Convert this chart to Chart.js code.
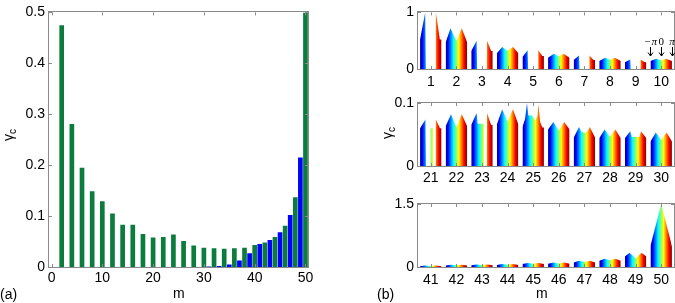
<!DOCTYPE html>
<html>
<head>
<meta charset="utf-8">
<script src="https://cdn.jsdelivr.net/npm/chart.js"></script>
<title>gamma_c versus m</title>
<style>
    body { margin: 0; background: #fff; font-family: "Liberation Sans", Arial, sans-serif; }
    #page { position: relative; width: 675px; height: 303px; overflow: hidden; }
    canvas { position: absolute; }
    .lbl { position: absolute; font-size: 14px; line-height: 14px; color: #000; white-space: nowrap; z-index: 2; }
    .ylab { transform: translate(-50%, -50%) rotate(-90deg); }
    .lbl sub { font-size: 10px; vertical-align: baseline; position: relative; top: 3px; }
    .ph { position: absolute; font-family: "Liberation Serif", serif; font-style: italic; font-size: 11px; line-height: 11px; transform: translateX(-50%); z-index: 2; }
</style>
</head>
<body>
<div id="page">
    <canvas id="chartA" width="320" height="303" style="left:0;top:0"></canvas>
    <canvas id="chartB1" width="315" height="90" style="left:360px;top:0"></canvas>
    <canvas id="chartB2" width="315" height="100" style="left:360px;top:90px"></canvas>
    <canvas id="chartB3" width="315" height="100" style="left:360px;top:190px"></canvas>

    <div class="lbl" style="left:0;top:287px">(a)</div>
    <div class="lbl" style="left:173px;top:286px">m</div>
    <div class="lbl ylab" style="left:9px;top:135px">γ<sub>c</sub></div>
    <div class="lbl" style="left:377px;top:287px">(b)</div>
    <div class="lbl" style="left:536px;top:286px">m</div>
    <div class="lbl ylab" style="left:388px;top:133px">γ<sub>c</sub></div>
</div>

<script>
    // panel (a): green bars at even m, blue bars at odd m
    const greenM = [2, 4, 6, 8, 10, 12, 14, 16, 18, 20, 22, 24, 26, 28, 30, 32, 34, 36, 38, 40, 42, 44, 46, 48, 50];
    const greenGamma = [0.475, 0.281, 0.195, 0.149, 0.129, 0.105, 0.083, 0.083, 0.065, 0.058, 0.059, 0.064, 0.051,
        0.042, 0.038, 0.037, 0.036, 0.037, 0.038, 0.043, 0.048, 0.059, 0.081, 0.137, 0.5];
    const blueM = [31, 33, 35, 37, 39, 41, 43, 45, 47, 49];
    const blueGamma = [0.001, 0.002, 0.005, 0.013, 0.027, 0.045, 0.053, 0.068, 0.102, 0.215];
    const xTicksA = [0, 10, 20, 30, 40, 50];
    const yTicksA = [0, 0.1, 0.2, 0.3, 0.4, 0.5];

    // panel (b): outline of gamma_c over the phase (in units of pi, -1 .. 1) for each m
    const mTop = [1, 2, 3, 4, 5, 6, 7, 8, 9, 10];
    const shapesTop = [
        [[-1, .52], [-0.52, 1], [-0.46, 0], [0.45, 0], [0.47, 1], [0.84, .52], [1, .52]],
        [[-1, .47], [-0.55, .72], [0, .49], [0.5, .72], [1, .47]],
        [[-1, .32], [-0.5, .5], [-0.45, 0], [0.45, 0], [0.47, .5], [0.85, .32], [1, .32]],
        [[-1, .28], [-0.5, .39], [0, .32], [0.5, .39], [1, .28]],
        [[-1, .21], [-0.52, .33], [-0.47, 0], [0.45, 0], [0.47, .33], [0.85, .23], [1, .23]],
        [[-1, .2], [-0.45, .27], [0, .22], [0.45, .27], [1, .2]],
        [[-1, .16], [-0.5, .24], [-0.45, 0], [0.45, 0], [0.47, .24], [0.85, .16], [1, .16]],
        [[-1, .14], [-0.45, .2], [0, .16], [0.45, .2], [1, .14]],
        [[-1, .12], [-0.5, .17], [-0.45, 0], [0.45, 0], [0.47, .17], [0.85, .12], [1, .12]],
        [[-1, .14], [-0.45, .18], [0, .15], [0.45, .18], [1, .14]]
    ];
    const mMid = [21, 22, 23, 24, 25, 26, 27, 28, 29, 30];
    const shapesMid = [
        [[-1, .06], [-0.5, .074], [-0.45, 0], [-0.03, 0], [-0.03, .06], [0.2, .06], [0.2, 0], [0.45, 0], [0.47, .074], [0.85, .06], [1, .06]],
        [[-1, .063], [-0.5, .082], [0, .061], [0.5, .082], [1, .063]],
        [[-1, .065], [-0.5, .084], [-0.4, .067], [0.17, .067], [0.17, 0], [0.45, 0], [0.47, .084], [0.85, .065], [1, .065]],
        [[-1, .066], [-0.5, .09], [0, .07], [0.5, .09], [1, .066]],
        [[-1, .062], [-0.75, .075], [-0.58, .1], [-0.45, .08], [-0.1, .08], [0.2, .072], [0.4, .08], [0.48, .098], [0.65, .07], [0.85, .061], [1, .061]],
        [[-1, .058], [-0.5, .07], [0, .056], [0.5, .07], [1, .058]],
        [[-1, .045], [-0.5, .062], [-0.3, .055], [0, .052], [0.3, .055], [0.5, .062], [1, .045]],
        [[-1, .044], [-0.5, .058], [0, .046], [0.5, .058], [1, .044]],
        [[-1, .044], [-0.5, .055], [-0.35, .046], [0.35, .046], [0.5, .055], [1, .044]],
        [[-1, .039], [-0.5, .053], [0, .041], [0.5, .053], [1, .039]]
    ];
    const mBot = [41, 42, 43, 44, 45, 46, 47, 48, 49, 50];
    const shapesBot = [
        [[-1, .02], [-0.5, .035], [0, .025], [0.5, .035], [1, .02]],
        [[-1, .035], [-0.5, .055], [0, .04], [0.5, .055], [1, .035]],
        [[-1, .04], [-0.5, .06], [0, .045], [0.5, .06], [1, .04]],
        [[-1, .047], [-0.5, .07], [0, .055], [0.5, .07], [1, .047]],
        [[-1, .07], [-0.5, .094], [0, .075], [0.5, .094], [1, .07]],
        [[-1, .08], [-0.5, .11], [0, .085], [0.5, .11], [1, .08]],
        [[-1, .11], [-0.5, .15], [0, .12], [0.5, .15], [1, .11]],
        [[-1, .15], [-0.5, .195], [0, .16], [0.5, .195], [1, .15]],
        [[-1, .25], [-0.55, .34], [0, .2], [0.55, .34], [1, .25]],
        [[-1, .5], [-0.85, .65], [0, 1.5], [0.85, .65], [1, .48]]
    ];
    const yMaxB = [1, 0.1, 1.5];
    const phaseMarks = [-1, 0, 1];
    const phaseLabels = ['−π', '0', 'π'];

    const halfW = 0.42;   // half width of one m group on the x axis
    const jetStops = [[0, '#00008f'], [0.11, '#0000ff'], [0.36, '#00ffff'], [0.61, '#ffff00'], [0.86, '#ff0000'], [1, '#800000']];

    Chart.defaults.font.family = '"Liberation Sans", Arial, sans-serif';
    Chart.defaults.font.size = 14;
    Chart.defaults.color = '#000';

    // gray box with small inward ticks, like the original axes
    const framePlugin = {
        id: 'frame',
        afterDatasetsDraw(chart) {
            const { ctx, chartArea: a } = chart;
            const sx = chart.scales.x, sy = chart.scales.y;
            ctx.save();
            ctx.strokeStyle = '#8a8a8a';
            ctx.lineWidth = 1;
            ctx.beginPath();
            sx.ticks.forEach(t => {
                const p = Math.round(sx.getPixelForValue(t.value)) + 0.5;
                ctx.moveTo(p, a.top); ctx.lineTo(p, a.top + 3);
                ctx.moveTo(p, a.bottom); ctx.lineTo(p, a.bottom - 3);
            });
            sy.ticks.forEach(t => {
                const p = Math.round(sy.getPixelForValue(t.value)) + 0.5;
                ctx.moveTo(a.left, p); ctx.lineTo(a.left + 3, p);
                ctx.moveTo(a.right, p); ctx.lineTo(a.right - 3, p);
            });
            ctx.stroke();
            ctx.strokeRect(Math.round(a.left) - 0.5, Math.round(a.top) - 0.5,
                Math.round(a.right - a.left) + 1, Math.round(a.bottom - a.top) + 1);
            ctx.restore();
        }
    };

    function jet(chart, m) {
        if (!chart.chartArea || !chart.scales.x) return '#0000ff';
        const sx = chart.scales.x;
        const g = chart.ctx.createLinearGradient(sx.getPixelForValue(m - halfW), 0, sx.getPixelForValue(m + halfW), 0);
        jetStops.forEach(([t, c]) => g.addColorStop(t, c));
        return g;
    }

    new Chart(document.getElementById('chartA'), {
        type: 'bar',
        data: {
            datasets: [{
                data: greenM.map((m, i) => ({ x: m, y: greenGamma[i] })),
                backgroundColor: '#0b7b3e',
                grouped: false,
                barPercentage: 0.92,
                categoryPercentage: 1
            }, {
                data: blueM.map((m, i) => ({ x: m, y: blueGamma[i] })),
                backgroundColor: '#0000ff',
                grouped: false,
                barPercentage: 0.92,
                categoryPercentage: 1
            }]
        },
        options: {
            responsive: false,
            animation: false,
            layout: { padding: { top: 7, right: 12, left: 0, bottom: 0 } },
            plugins: { legend: { display: false }, tooltip: { enabled: false } },
            scales: {
                x: {
                    type: 'linear', offset: false, min: -0.5, max: 50.5,
                    grid: { display: false, drawTicks: false, offset: false },
                    border: { display: false },
                    afterBuildTicks: s => { s.ticks = xTicksA.map(v => ({ value: v })); },
                    afterFit: s => { s.height = 36; },
                    ticks: { padding: 3, maxRotation: 0, autoSkip: false, callback: v => String(v) }
                },
                y: {
                    min: 0, max: 0.5,
                    grid: { display: false, drawTicks: false },
                    border: { display: false },
                    afterBuildTicks: s => { s.ticks = yTicksA.map(v => ({ value: v })); },
                    afterFit: s => { s.width = 49; },
                    ticks: { padding: 4, callback: v => String(v) }
                }
            }
        },
        plugins: [framePlugin]
    });

    function makePanelB(id, ms, shapes, yMax, padTop, xHeight, tickPad, extraPlugins) {
        return new Chart(document.getElementById(id), {
            type: 'line',
            data: {
                datasets: ms.map((m, i) => ({
                    data: shapes[i].map(([ph, g]) => ({ x: m + halfW * ph, y: g })),
                    fill: 'origin',
                    borderColor: 'rgba(0,0,0,0)',
                    borderWidth: 0,
                    pointRadius: 0,
                    tension: 0,
                    backgroundColor: ctx => jet(ctx.chart, m)
                }))
            },
            options: {
                responsive: false,
                animation: false,
                layout: { padding: { top: padTop, right: 1, left: 0, bottom: 0 } },
                plugins: { legend: { display: false }, tooltip: { enabled: false } },
                scales: {
                    x: {
                        type: 'linear', min: ms[0] - 0.5, max: ms[ms.length - 1] + 0.5,
                        grid: { display: false, drawTicks: false },
                        border: { display: false },
                        afterBuildTicks: s => { s.ticks = ms.map(v => ({ value: v })); },
                        afterFit: s => { s.height = xHeight; },
                        ticks: { padding: tickPad, maxRotation: 0, autoSkip: false, callback: v => String(v) }
                    },
                    y: {
                        min: 0, max: yMax,
                        grid: { display: false, drawTicks: false },
                        border: { display: false },
                        afterBuildTicks: s => { s.ticks = [{ value: 0 }, { value: yMax }]; },
                        afterFit: s => { s.width = 58; },
                        ticks: { padding: 4, callback: v => String(v) }
                    }
                }
            },
            plugins: [framePlugin].concat(extraPlugins || [])
        });
    }

    // small arrows pointing at -pi, 0, pi of the last group in the top panel
    const arrowPlugin = {
        id: 'phaseArrows',
        afterDatasetsDraw(chart) {
            const { ctx } = chart;
            const sx = chart.scales.x;
            const m = mTop[mTop.length - 1];
            ctx.save();
            ctx.strokeStyle = '#000';
            ctx.lineWidth = 1;
            ctx.beginPath();
            phaseMarks.forEach(ph => {
                const p = Math.round(sx.getPixelForValue(m + halfW * ph)) + 0.5;
                ctx.moveTo(p, 47); ctx.lineTo(p, 56);
                ctx.moveTo(p - 2.5, 52.5); ctx.lineTo(p, 56); ctx.lineTo(p + 2.5, 52.5);
            });
            ctx.stroke();
            ctx.restore();
        }
    };

    const chartB1 = makePanelB('chartB1', mTop, shapesTop, yMaxB[0], 6, 21, 5, [arrowPlugin]);
    makePanelB('chartB2', mMid, shapesMid, yMaxB[1], 13, 24, 4);
    makePanelB('chartB3', mBot, shapesBot, yMaxB[2], 14, 23, 5);

    const page = document.getElementById('page');
    phaseMarks.forEach((ph, i) => {
        const span = document.createElement('div');
        span.className = 'ph';
        span.textContent = phaseLabels[i];
        if (phaseLabels[i] === '0') span.style.fontStyle = 'normal';
        span.style.left = (360 + chartB1.scales.x.getPixelForValue(mTop[mTop.length - 1] + halfW * ph)) + 'px';
        span.style.top = '36px';
        page.appendChild(span);
    });
</script>
</body>
</html>
